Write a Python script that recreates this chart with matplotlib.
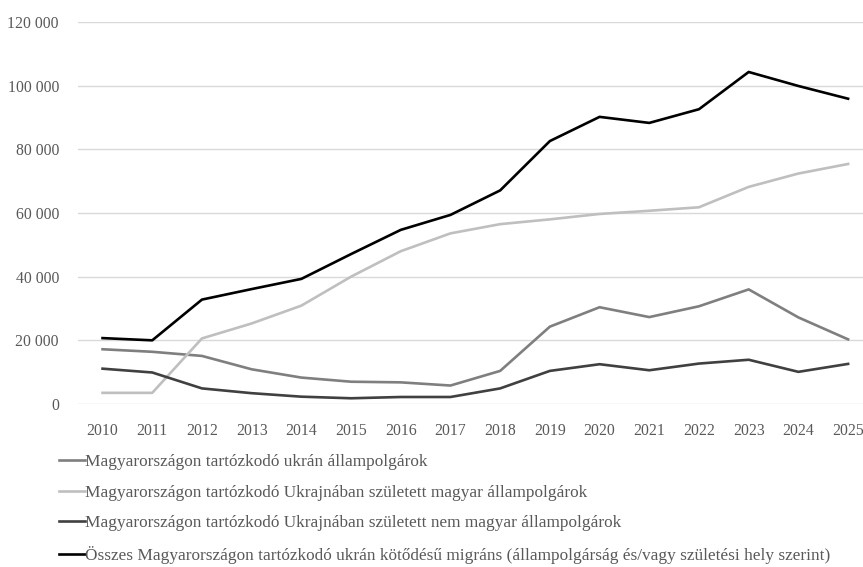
import matplotlib.pyplot as plt
from matplotlib.ticker import FuncFormatter

plt.rcParams['font.family'] = ['Liberation Serif', 'DejaVu Serif']

years = list(range(2010, 2026))

# Magyarországon tartózkodó ukrán állampolgárok
ukran_allampolgar = [17200, 16400, 15100, 10900, 8300, 7000, 6800, 5800,
                     10400, 24300, 30400, 27300, 30700, 36000, 27200, 20300]
# Ukrajnában született magyar állampolgárok
szuletett_magyar = [3500, 3500, 20600, 25300, 30900, 40000, 48000, 53600,
                    56500, 58000, 59700, 60700, 61800, 68200, 72400, 75400]
# Ukrajnában született nem magyar állampolgárok
szuletett_nem_magyar = [11100, 9900, 4900, 3400, 2300, 1800, 2200, 2200,
                        4900, 10400, 12500, 10600, 12700, 13900, 10100, 12600]
# Összes ukrán kötődésű migráns
osszes = [20700, 20000, 32800, 36100, 39300, 47100, 54700, 59400,
          67100, 82600, 90200, 88300, 92600, 104300, 99900, 95900]

labels = [
    "Magyarországon tartózkodó ukrán állampolgárok",
    "Magyarországon tartózkodó Ukrajnában született magyar állampolgárok",
    "Magyarországon tartózkodó Ukrajnában született nem magyar állampolgárok",
    "Összes Magyarországon tartózkodó ukrán kötődésű migráns (állampolgárság és/vagy születési hely szerint)",
]
colors = ["#7f7f7f", "#bfbfbf", "#404040", "#000000"]
series = [ukran_allampolgar, szuletett_magyar, szuletett_nem_magyar, osszes]

fig = plt.figure(figsize=(8.63, 5.67), dpi=100)
ax = fig.add_axes([77.7 / 863, 163 / 567, (863 - 77.7) / 863, 382 / 567])

x = list(range(len(years)))
lines = []
for vals, col, lab in zip(series, colors, labels):
    ln, = ax.plot(x, vals, color=col, linewidth=1.9, label=lab, zorder=3)
    lines.append(ln)

ax.set_xlim(-0.5, 15.30)
ax.set_ylim(0, 120000)
ax.set_yticks(range(0, 120001, 20000))
ax.yaxis.set_major_formatter(FuncFormatter(lambda v, p: f"{int(v):,}".replace(",", " ")))
ax.set_xticks(x)
ax.set_xticklabels([str(y) for y in years])
ax.grid(axis='y', color='#d9d9d9', linewidth=1.0, zorder=0)
for s in ax.spines.values():
    s.set_visible(False)
ax.tick_params(length=0, colors='#595959', labelsize=11.3)
ax.tick_params(axis='x', pad=13.5)
ax.tick_params(axis='y', pad=13.5)

fig.legend(handles=lines, loc='upper left', bbox_to_anchor=(59 / 863, 1 - 454 / 567),
           frameon=False, handlelength=1.5, handletextpad=0.0, labelspacing=0.84,
           fontsize=12.45, labelcolor='#595959', borderaxespad=0, borderpad=0)

fig.savefig("out.png", dpi=100)
